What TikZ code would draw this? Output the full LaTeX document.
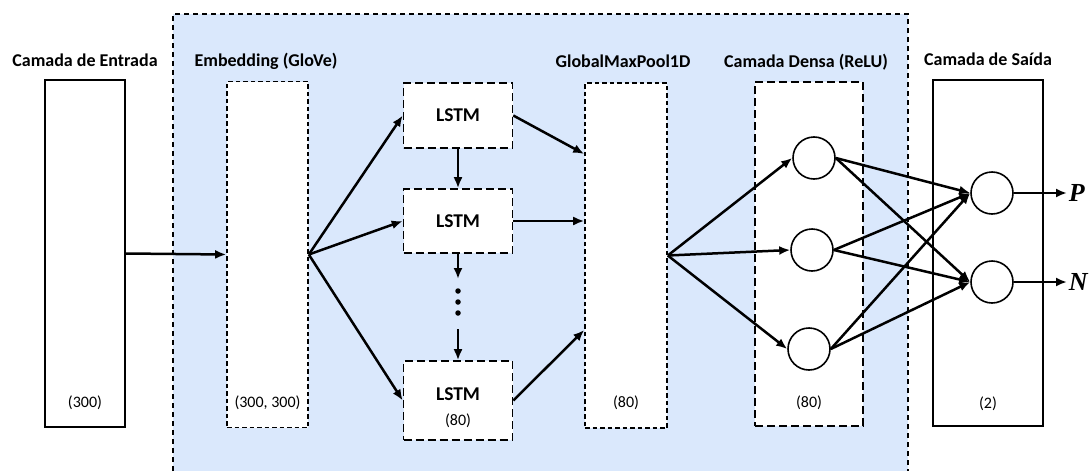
\documentclass[tikz,border=0pt]{standalone}
\usepackage{fontspec}
\setmainfont{Carlito}
\newfontfamily\outfont{Liberation Serif}
\usetikzlibrary{arrows.meta,calc}
\definecolor{regionblue}{RGB}{218,232,252}

\begin{document}
\begin{tikzpicture}[x=1pt,y=-1pt,
    line width=1.6pt,
    box/.style={draw,rectangle,fill=white,inner sep=0pt},
    plainbox/.style={box,dash pattern=on 4.5pt off 3pt},
    lstmbox/.style={box,dash pattern=on 8pt off 4pt,minimum width=109pt,
      font=\fontsize{19.5}{22}\selectfont\bfseries},
    densebox/.style={box,dash pattern=on 8pt off 4pt},
    neuron/.style={draw,circle,fill=white,minimum size=42pt,inner sep=0pt},
    dot/.style={circle,fill,inner sep=0pt,minimum size=5.5pt},
    title/.style={anchor=base,font=\fontsize{18}{21}\selectfont\bfseries},
    dim/.style={anchor=base,font=\fontsize{16}{19}\selectfont},
    outlbl/.style={anchor=west,inner sep=1pt,
      font=\fontsize{26}{28}\selectfont\outfont\bfseries\itshape},
    conn/.style={line width=2.5pt,-{Latex[length=11pt,width=9pt]}}
  ]
  \useasboundingbox (0,0) rectangle (1089,471);

  % the shaded part of the model
  \fill[regionblue] (173,14) rectangle (908,471);
  \draw[dash pattern=on 5pt off 4pt] (173,471) -- (173,14) -- (908,14) -- (908,471);

  % the layers
  \node[box,minimum width=80pt,minimum height=347pt] (inp) at (85,253.5) {};
  \node[plainbox,minimum width=81pt,minimum height=346pt] (emb) at (267.5,254.5) {};
  \node[lstmbox,minimum height=65pt] (lstm1) at (458,115.5) {LSTM};
  \node[lstmbox,minimum height=64pt] (lstm2) at (458,221) {LSTM};
  \node[lstmbox,minimum height=79pt] (lstm3) at (458,400.5) {};
  \node[plainbox,minimum width=82pt,minimum height=345pt] (gmp) at (626,255.5) {};
  \node[densebox,minimum width=108pt,minimum height=344pt] (dense) at (809,254) {};
  \node[box,minimum width=110pt,minimum height=346pt] (out) at (988,253) {};

  % the titles
  \node[title] (tinp) at (85,66) {Camada de Entrada};
  \node[title] (temb) at (266,66) {Embedding (GloVe)};
  \node[title] (tgmp) at (623,67) {GlobalMaxPool1D};
  \node[title] (tdense) at (806,67) {Camada Densa (ReLU)};
  \node[title] (tout) at (988,65) {Camada de Saída};

  % the sizes
  \node[dim] (sinp) at (85,407) {(300)};
  \node[dim] (semb) at (267.5,407) {(300, 300)};
  \node[dim,font=\fontsize{19.5}{22}\selectfont\bfseries] (slstmname) at (458,400) {LSTM};
  \node[dim] (slstm) at (458,425.5) {(80)};
  \node[dim] (sgmp) at (626,407) {(80)};
  \node[dim] (sdense) at (809,407) {(80)};
  \node[dim] (sout) at (988,408) {(2)};

  % the neurons
  \node[neuron] (d1) at (814,158) {};
  \node[neuron] (d2) at (812,250) {};
  \node[neuron] (d3) at (809,349) {};
  \node[neuron] (o1) at (992,193) {};
  \node[neuron] (o2) at (992,282) {};
  \node[outlbl] (P) at (1067,193) {P};
  \node[outlbl] (N) at (1067,282) {N};

  % the dots between the LSTMs
  \node[dot] (dt1) at (458,291) {};
  \node[dot] (dt2) at (458,302) {};
  \node[dot] (dt3) at (458,313) {};
  \coordinate (dotstop) at (458,279);
  \coordinate (dotsbottom) at (458,329);

  % the edges
  \draw[conn] (inp.east) -- (emb.west);
  \draw[conn] (emb.east) -- (lstm1.west);
  \draw[conn] (emb.east) -- (lstm2.west);
  \draw[conn] (emb.east) -- (lstm3.west);
  \draw[conn] (lstm1.south) -- (lstm2.north);
  \draw[conn] (lstm2.south) -- (dotstop);
  \draw[conn] (dotsbottom) -- (lstm3.north);
  \draw[conn] (lstm1.east) -- ([yshift=101.5pt]gmp.west);
  \draw[conn] (lstm2.east) -- (lstm2.east -| gmp.west);
  \draw[conn] (lstm3.east) -- ([yshift=-74.5pt]gmp.west);
  \foreach \d in {d1,d2,d3}
    \draw[conn] (gmp.east) -- (\d.west);
  \foreach \d in {d1,d2,d3}
    \foreach \o in {o1,o2}
      \draw[conn] (\d.east) -- (\o.west);
  \draw[conn] (o1.east) -- (P.west);
  \draw[conn] (o2.east) -- (N.west);
\end{tikzpicture}
\end{document}
